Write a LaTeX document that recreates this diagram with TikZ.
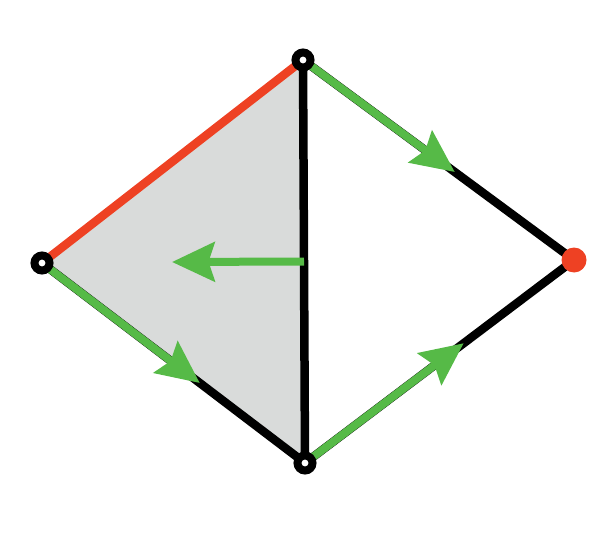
\documentclass[tikz,border=0pt]{standalone}
\usepackage{xcolor}
\usepackage{tikz}
\usetikzlibrary{calc}
\usetikzlibrary{arrows, arrows.meta}

\definecolor{edgered}{HTML}{EE4123}
\definecolor{flowgreen}{HTML}{56BA47}
\definecolor{facegray}{HTML}{D9DBDA}

\begin{document}
\begin{tikzpicture}[x=0.02cm, y=-0.02cm,
	edge/.style={line width=0.17cm, black},
	redge/.style={line width=0.17cm, edgered},
	flow/.style={line width=0.16cm, flowgreen, -{Stealth[length=0.85cm, width=0.78cm, inset=0.12cm]}},
	vtx/.style={circle, draw=black, fill=white, line width=0.16cm, inner sep=0pt, minimum size=0.3cm},
	sink/.style={circle, fill=edgered, inner sep=0pt, minimum size=0.5cm}]

\useasboundingbox (0,0) rectangle (614,537);

\coordinate (t) at (303,60);
\coordinate (l) at (42,263);
\coordinate (b) at (305,463);
\coordinate (r) at (574,260);

\fill [facegray] (t) -- (l) -- (b) -- cycle;

\draw [edge] (t) -- (b);
\draw [edge] (l) -- (b);
\draw [edge] (t) -- (r);
\draw [edge] (b) -- (r);
\draw [redge] (t) -- (l);

\coordinate (mid) at ($(t)!0.5!(b)$);
\coordinate (w) at (172,262);
\draw [flow] (t) -- ($(t)!0.56!(r)$);
\draw [flow] (l) -- ($(l)!0.6!(b)$);
\draw [flow] (b) -- ($(b)!0.59!(r)$);
\draw [flow] (mid) -- (w);

\node [vtx] (tv) at (t) {};
\node [vtx] (lv) at (l) {};
\node [vtx] (bv) at (b) {};
\node [sink] (rv) at (r) {};

\end{tikzpicture}
\end{document}
